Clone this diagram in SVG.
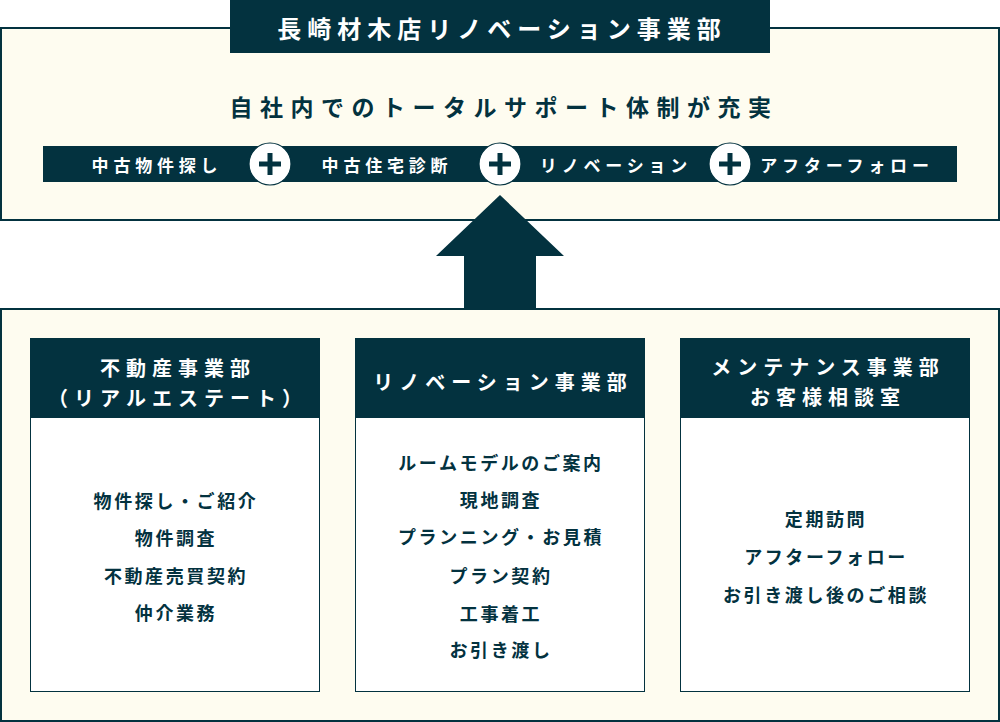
<svg xmlns="http://www.w3.org/2000/svg" width="1000" height="722" viewBox="0 0 1000 722">
<style>
text{font-family:"Noto Sans CJK JP","Noto Sans",sans-serif;font-weight:700;text-anchor:middle;dominant-baseline:central}
.dk{fill:#03323f}
.lt{fill:#ffffff}
.panel{fill:#fefcf0;stroke:#03323f;stroke-width:2}
.card{fill:#ffffff;stroke:#03323f;stroke-width:1}
.title{font-size:24px;letter-spacing:6px}
.sub{font-size:23px;letter-spacing:7.5px}
.bar{font-size:17px;letter-spacing:4.8px}
.hd{font-size:20px;letter-spacing:6px}
.it{font-size:18px;letter-spacing:2.6px}
.plus{fill:#ffffff;stroke:#03323f;stroke-width:1.2}
</style>
<defs>
<g id="plusSign">
<circle class="plus" cx="0" cy="0" r="21"/>
<rect class="dk" x="-11" y="-2.5" width="22" height="5"/>
<rect class="dk" x="-2.5" y="-11" width="5" height="22"/>
</g>
</defs>

<g id="top-panel">
<rect class="panel" x="1" y="28" width="998" height="192"/>
<rect class="dk" x="230" y="0" width="540" height="53"/>
<text class="title lt" x="502" y="27">長崎材木店リノベーション事業部</text>
<text class="sub dk" x="504" y="106">自社内でのトータルサポート体制が充実</text>
</g>

<g id="service-bar">
<rect class="dk" x="43" y="146" width="914" height="36"/>
<text class="bar lt" x="157" y="164">中古物件探し</text>
<text class="bar lt" x="387" y="164">中古住宅診断</text>
<text class="bar lt" x="616" y="164">リノベーション</text>
<text class="bar lt" x="847" y="164">アフターフォロー</text>
<use href="#plusSign" x="270" y="164"/>
<use href="#plusSign" x="500" y="164"/>
<use href="#plusSign" x="730" y="164"/>
</g>

<g id="connectors">
<polygon class="dk" points="500,195 564,256 536,256 536,309 464,309 464,256 436,256"/>
</g>

<g id="bottom-panel">
<rect class="panel" x="1" y="309" width="998" height="412"/>
</g>

<g id="card-realestate">
<rect class="card" x="30.5" y="338.5" width="289" height="353"/>
<rect class="dk" x="30" y="338" width="290" height="80"/>
<text class="hd lt" x="178" y="367">不動産事業部</text>
<text class="hd lt" x="178" y="397">（リアルエステート）</text>
<text class="it dk" x="176" y="500">物件探し・ご紹介</text>
<text class="it dk" x="176" y="537">物件調査</text>
<text class="it dk" x="176" y="575">不動産売買契約</text>
<text class="it dk" x="176" y="612">仲介業務</text>
</g>

<g id="card-renovation">
<rect class="card" x="355.5" y="338.5" width="289" height="353"/>
<rect class="dk" x="355" y="338" width="290" height="80"/>
<text class="hd lt" x="503" y="381">リノベーション事業部</text>
<text class="it dk" x="501" y="462">ルームモデルのご案内</text>
<text class="it dk" x="501" y="499">現地調査</text>
<text class="it dk" x="501" y="536">プランニング・お見積</text>
<text class="it dk" x="501" y="575">プラン契約</text>
<text class="it dk" x="501" y="613">工事着工</text>
<text class="it dk" x="501" y="649">お引き渡し</text>
</g>

<g id="card-maintenance">
<rect class="card" x="680.5" y="338.5" width="289" height="353"/>
<rect class="dk" x="680" y="338" width="290" height="80"/>
<text class="hd lt" x="828" y="366">メンテナンス事業部</text>
<text class="hd lt" x="828" y="396">お客様相談室</text>
<text class="it dk" x="826" y="518">定期訪問</text>
<text class="it dk" x="826" y="556">アフターフォロー</text>
<text class="it dk" x="826" y="594">お引き渡し後のご相談</text>
</g>
</svg>
